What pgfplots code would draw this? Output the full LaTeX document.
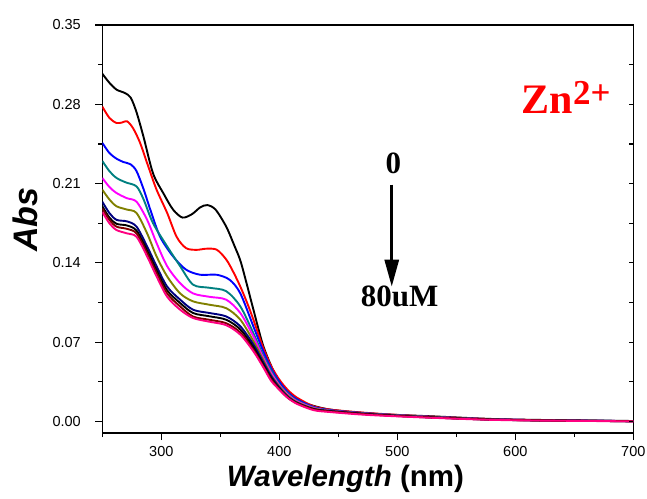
\documentclass[border=0pt]{standalone}
\usepackage{pgfplots}
\pgfplotsset{compat=1.18}
\usepackage{fontspec}
\setmainfont{Liberation Sans}
\newfontfamily\timesfont{Liberation Serif}
\usetikzlibrary{arrows.meta}
\definecolor{cteal}{RGB}{0,128,128}
\definecolor{colive}{RGB}{128,128,0}
\definecolor{cnavy}{RGB}{0,0,128}
\definecolor{cmaroon}{RGB}{128,0,0}
\definecolor{cpink}{RGB}{255,0,128}
\definecolor{cmag}{RGB}{255,0,255}
\begin{document}
\begin{tikzpicture}
\begin{axis}[
  scale only axis, width=531pt, height=408pt,
  xmin=250, xmax=700, ymin=-0.0102, ymax=0.35,
  axis line style={line width=1.5pt},
  xtick={300,400,500,600,700}, minor xtick={250,350,450,550,650},
  ytick={0,0.07,0.14,0.21,0.28,0.35}, minor ytick={0.035,0.105,0.175,0.245,0.315},
  xtick pos=bottom, ytick pos=left, tick align=outside,
  major tick length=7pt, minor tick length=4pt,
  every tick/.style={line width=1.2pt, black},
  /pgf/number format/assume math mode=true,
  tick label style={font=\fontsize{14.5}{14.5}\selectfont},
  yticklabel style={xshift=-11pt, /pgf/number format/.cd, fixed, fixed zerofill, precision=2},
  xticklabel style={yshift=-3pt, /pgf/number format/.cd, fixed, precision=0},
  xlabel={\textbf{\textit{Wavelength} (nm)}},
  ylabel={\textbf{\textit{Abs}}},
  xlabel style={font=\fontsize{29.5}{29.5}\selectfont, at={(axis description cs:0.458,-0.1316)}, anchor=base},
  ylabel style={font=\fontsize{34}{34}\selectfont, at={(axis description cs:-0.145,0.523)}, anchor=center},
  every axis plot/.append style={line width=1.9pt, smooth},
]
\coordinate (LL) at (rel axis cs:0,0);
% 0 uM
\addplot[black] coordinates {(250,0.307)(256,0.299)(262,0.293)(269,0.290)(274,0.286)(279,0.273)(285,0.251)(293,0.219)(302,0.201)(310,0.187)(318,0.180)(326,0.183)(333,0.189)(339,0.191)(346,0.187)(355,0.172)(362,0.155)(367,0.142)(372,0.123)(378,0.099)(386,0.068)(394,0.047)(400,0.036)(408,0.026)(416,0.019)(425,0.015)(440,0.011)(460,0.0085)(490,0.0062)(530,0.0045)(580,0.0022)(630,0.0012)(700,0.0004)};
\addplot[red] coordinates {(250,0.278)(256,0.268)(262,0.2635)(267,0.264)(271,0.265)(276,0.259)(282,0.246)(289,0.225)(296,0.2046)(305,0.184)(313,0.163)(321,0.153)(330,0.1515)(338,0.1525)(347,0.1516)(355,0.143)(361,0.132)(367,0.119)(373,0.104)(378,0.090)(386,0.066)(393,0.049)(400,0.037)(407,0.028)(415,0.021)(429,0.0135)(443,0.0105)(471,0.0078)(500,0.0058)(530,0.0042)(580,0.002)(630,0.001)(700,0.0003)};
\addplot[blue] coordinates {(250,0.246)(256,0.237)(262,0.232)(268,0.229)(274,0.227)(279,0.221)(285,0.205)(291,0.186)(299,0.163)(310,0.1457)(321,0.134)(333,0.1295)(347,0.1295)(358,0.125)(367,0.113)(378,0.084)(386,0.063)(393,0.047)(400,0.035)(407,0.026)(415,0.0195)(429,0.0128)(443,0.0100)(471,0.0074)(500,0.0055)(530,0.004)(580,0.0019)(630,0.001)(700,0.0003)};
\addplot[cteal] coordinates {(250,0.230)(256,0.221)(262,0.215)(270,0.211)(279,0.2075)(285,0.196)(293,0.175)(305,0.1545)(316,0.137)(327,0.1207)(341,0.118)(355,0.115)(367,0.1015)(378,0.078)(386,0.059)(393,0.045)(400,0.033)(407,0.025)(415,0.0185)(429,0.0123)(443,0.0097)(471,0.0072)(500,0.0054)(530,0.0039)(580,0.0018)(630,0.0009)(700,0.0003)};
\addplot[cmag] coordinates {(250,0.215)(256,0.207)(262,0.2017)(271,0.197)(279,0.194)(288,0.178)(296,0.1575)(305,0.137)(316,0.122)(327,0.113)(341,0.110)(355,0.1075)(367,0.0957)(378,0.075)(386,0.057)(393,0.043)(400,0.032)(407,0.024)(415,0.0178)(429,0.012)(443,0.0095)(471,0.007)(500,0.0052)(530,0.0038)(580,0.0018)(630,0.0009)(700,0.0002)};
\addplot[colive] coordinates {(250,0.2046)(256,0.196)(262,0.190)(271,0.187)(279,0.184)(288,0.166)(296,0.1457)(305,0.128)(316,0.113)(327,0.106)(341,0.103)(355,0.100)(367,0.0898)(378,0.071)(386,0.055)(393,0.041)(400,0.031)(407,0.023)(415,0.017)(429,0.0115)(443,0.0093)(471,0.0069)(500,0.0051)(530,0.0037)(580,0.0017)(630,0.0008)(700,0.0002)};
\addplot[cnavy] coordinates {(250,0.194)(256,0.184)(262,0.178)(271,0.1766)(279,0.172)(288,0.1545)(296,0.137)(305,0.119)(316,0.1075)(327,0.0986)(341,0.0957)(355,0.0927)(367,0.084)(378,0.068)(386,0.053)(393,0.040)(400,0.030)(407,0.022)(415,0.0165)(429,0.011)(443,0.0092)(471,0.0068)(500,0.005)(530,0.0035)(580,0.0016)(630,0.0008)(700,0.0002)};
\addplot[black] coordinates {(250,0.190)(256,0.180)(262,0.1745)(271,0.173)(279,0.1685)(288,0.151)(296,0.1335)(305,0.1157)(316,0.1045)(327,0.0957)(341,0.0928)(355,0.0898)(367,0.0812)(378,0.0655)(386,0.051)(393,0.0385)(400,0.029)(407,0.0215)(415,0.0162)(429,0.0108)(443,0.009)(471,0.0067)(500,0.005)(530,0.0036)(580,0.0017)(630,0.0009)(700,0.0003)};
\addplot[cmaroon] coordinates {(250,0.188)(256,0.178)(262,0.172)(271,0.170)(279,0.166)(288,0.1485)(296,0.131)(305,0.113)(316,0.1015)(327,0.0926)(341,0.0897)(355,0.0867)(367,0.0785)(378,0.0635)(386,0.0495)(393,0.0375)(400,0.0285)(407,0.021)(415,0.016)(429,0.0106)(443,0.0088)(471,0.0065)(500,0.0048)(530,0.0034)(580,0.0016)(630,0.0008)(700,0.0002)};
\addplot[cpink] coordinates {(250,0.185)(256,0.175)(262,0.169)(271,0.166)(279,0.163)(288,0.1457)(296,0.128)(305,0.110)(316,0.0986)(327,0.0913)(341,0.088)(355,0.085)(367,0.0766)(378,0.062)(386,0.0486)(393,0.036)(400,0.028)(407,0.021)(415,0.0155)(429,0.010)(443,0.0083)(471,0.006)(500,0.0045)(530,0.0032)(580,0.0014)(630,0.0007)(700,0.0001)};
% annotations
\node[font=\timesfont\bfseries\fontsize{31}{31}\selectfont, anchor=center] at (axis cs:496.6,0.2275) {0};
\draw[line width=3pt, -{Triangle[length=27pt,width=14pt]}] (axis cs:495.3,0.209) -- (axis cs:495.3,0.119);
\node[font=\timesfont\bfseries\fontsize{31}{31}\selectfont, anchor=center] at (axis cs:502,0.1104) {80uM};
\node[text=red, font=\timesfont\bfseries, anchor=base west, inner sep=0pt] at (axis cs:605.4,0.272) {{\fontsize{42}{42}\selectfont Zn}\raisebox{9pt}{\fontsize{35}{35}\selectfont 2+}};
\end{axis}
\begin{axis}[
  scale only axis, width=531pt, height=408pt,
  xmin=250, xmax=700, ymin=-0.0102, ymax=0.35,
  axis line style={draw=none},
  xtick=\empty,
  ytick={0,0.07,0.14,0.21,0.28,0.35}, minor ytick={0.035,0.105,0.175,0.245,0.315},
  ytick pos=right, tick align=inside, yticklabels={},
  major tick length=4pt, minor tick length=4pt,
  every tick/.style={line width=1.2pt, black},
]
\end{axis}
\pgfresetboundingbox
\path[use as bounding box] (LL) ++(-102.3pt,-65pt) rectangle ++(647pt,498pt);
\end{tikzpicture}
\end{document}
